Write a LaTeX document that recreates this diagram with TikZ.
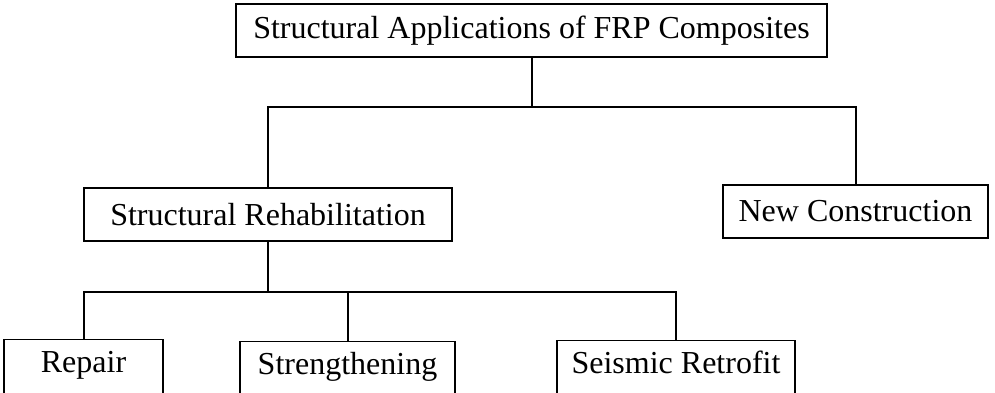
\documentclass[tikz,border=0pt]{standalone}
\usepackage{fontspec}
\setmainfont{Liberation Serif}
\begin{document}
\begin{tikzpicture}[x=1pt,y=-1pt,
  font=\fontsize{32}{38}\selectfont,
  box/.style={draw, line width=1.2pt, rectangle, inner sep=0pt, minimum height=53pt},
  openbox/.style={draw, line width=1.2pt, rectangle, anchor=north, inner xsep=0pt, inner ysep=11pt, text height=22pt, text depth=40pt},
  conn/.style={line width=2pt}]
\clip (0,0) rectangle (995,393);
\fill[white] (0,0) rectangle (995,393);
\node[box, minimum width=591pt] (top) at (531.5,30.5) {Structural Applications of FRP Composites};
\node[box, minimum width=368pt] (rehab) at (268,214.5) {Structural Rehabilitation};
\node[box, minimum width=265pt] (newc) at (855.5,211.5) {New Construction};
\node[openbox, minimum width=159pt] (repair) at (83.5,339) {Repair};
\node[openbox, minimum width=215pt] (strength) at (347.5,341) {Strengthening};
\node[openbox, minimum width=238pt] (seismic) at (676,340) {Seismic Retrofit};
\coordinate (j1) at (531.5,107);
\coordinate (j2) at (268,292);
\draw[conn] (top.south) -- (j1);
\draw[conn] (rehab.north) |- (j1) -| (newc.north);
\draw[conn] (rehab.south) -- (j2);
\draw[conn] (repair.north) |- (j2) -| (seismic.north);
\draw[conn] (j2) -| (strength.north);
\end{tikzpicture}
\end{document}
